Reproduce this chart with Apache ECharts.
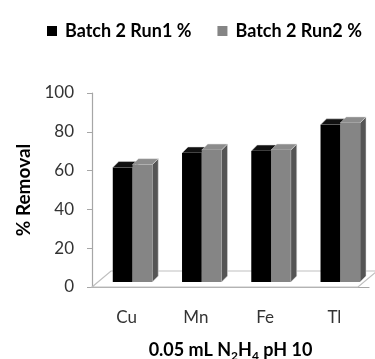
<!DOCTYPE html>
<html>
<head>
<meta charset="utf-8">
<script src="https://cdn.jsdelivr.net/npm/echarts@6/dist/echarts.min.js"></script>
<style>html,body{margin:0;padding:0;background:#fff;}#c{width:375px;height:359px;}</style>
</head>
<body>
<div id="c"></div>
<script>
const categories = ['Cu', 'Mn', 'Fe', 'Tl'];
const run1 = [59, 66.5, 67.5, 81];
const run2 = [60.5, 68, 68, 82];
const seriesNames = ['Batch 2 Run1 %', 'Batch 2 Run2 %'];
const yTicks = [0, 20, 40, 60, 80, 100];

const FONT = 'Lato, "Open Sans", sans-serif';

function barRender(slot, front, top, side) {
  return function (params, api) {
    const idx = api.value(0);
    const val = api.value(1);
    const base = api.coord([idx, 0]);
    const tp = api.coord([idx, val]);
    const bw = api.size([1, 0])[0];
    const barW = bw * 0.285;
    const left = base[0] - bw * 0.2 + slot * barW;
    const lift = 5;
    const y0 = base[1] - lift, y1 = tp[1] - lift;
    const dx = 6, dy = 6;
    return {
      type: 'group',
      children: [
        { type: 'polygon', shape: { points: [[left + barW, y0], [left + barW + dx, y0 - dy], [left + barW + dx, y1 - dy], [left + barW, y1]] }, style: { fill: side, stroke: '#ddd', lineWidth: 0.5 } },
        { type: 'polygon', shape: { points: [[left, y1], [left + dx, y1 - dy], [left + barW + dx, y1 - dy], [left + barW, y1]] }, style: { fill: top, stroke: '#ddd', lineWidth: 0.5 } },
        { type: 'rect', shape: { x: left, y: y1, width: barW, height: y0 - y1 }, style: { fill: front } }
      ]
    };
  };
}

function floorRender(params, api) {
  const cs = params.coordSys;
  const l = cs.x, r = cs.x + cs.width, b = cs.y + cs.height;
  return {
    type: 'polygon',
    shape: { points: [[l, b], [l + 19, b - 16], [r + 8, b - 16], [r - 11, b]] },
    style: { fill: '#fff', stroke: '#bfbfbf', lineWidth: 1.2 }
  };
}

const chart = echarts.init(document.getElementById('c'));
chart.setOption({
  backgroundColor: '#fff',
  animation: false,
  legend: {
    data: seriesNames,
    top: 17,
    left: 42,
    icon: 'rect',
    itemWidth: 10,
    itemHeight: 10,
    itemGap: 26,
    textStyle: { fontFamily: FONT, fontWeight: 'bold', fontSize: 18, color: '#000', padding: [0, 0, 0, 3] }
  },
  grid: { left: 92, right: 6, top: 93, bottom: 72, outerBoundsMode: 'none', containLabel: false },
  xAxis: {
    type: 'category',
    data: categories,
    axisLine: { lineStyle: { color: '#a6a6a6', width: 1.2 } },
    axisTick: { length: 5, lineStyle: { color: '#a6a6a6' } },
    axisLabel: { margin: 22, fontFamily: FONT, fontSize: 17, color: '#333' },
    name: '{m|0.05 mL N}{s|2}{m|H}{s|4}{m| pH 10}',
    nameLocation: 'middle',
    nameGap: 51,
    nameTextStyle: {
      fontFamily: FONT, fontWeight: 'bold', fontSize: 18, color: '#000',
      rich: {
        m: { fontFamily: FONT, fontWeight: 'bold', fontSize: 18, color: '#000', lineHeight: 24, verticalAlign: 'middle' },
        s: { fontFamily: FONT, fontWeight: 'bold', fontSize: 12, color: '#000', lineHeight: 12, verticalAlign: 'bottom' }
      }
    }
  },
  yAxis: {
    type: 'value',
    min: 0,
    max: 100,
    interval: 20,
    axisLine: { show: true, lineStyle: { color: '#a6a6a6', width: 1.2 } },
    axisTick: { show: true, length: 5, lineStyle: { color: '#a6a6a6' } },
    splitLine: { show: false },
    axisLabel: {
      margin: 18, fontFamily: FONT, fontSize: 17, color: '#333',
      formatter: function (v) { return yTicks.indexOf(v) >= 0 ? String(v) : ''; }
    },
    name: '% Removal',
    nameLocation: 'middle',
    nameGap: 54,
    nameTextStyle: { fontFamily: FONT, fontWeight: 'bold', fontSize: 19, color: '#000' }
  },
  series: [
    {
      type: 'custom', name: 'floor', silent: true, z: 1,
      renderItem: floorRender, data: [[0, 0]], encode: { x: 0, y: 1 }
    },
    {
      type: 'custom', name: seriesNames[0], z: 2,
      itemStyle: { color: '#000' },
      renderItem: barRender(0, '#000', '#111', '#222'),
      encode: { x: 0, y: 1 },
      data: run1.map((v, i) => [i, v])
    },
    {
      type: 'custom', name: seriesNames[1], z: 3,
      itemStyle: { color: '#858585' },
      renderItem: barRender(1, '#858585', '#8c8c8c', '#555'),
      encode: { x: 0, y: 1 },
      data: run2.map((v, i) => [i, v])
    }
  ]
});
</script>
</body>
</html>
